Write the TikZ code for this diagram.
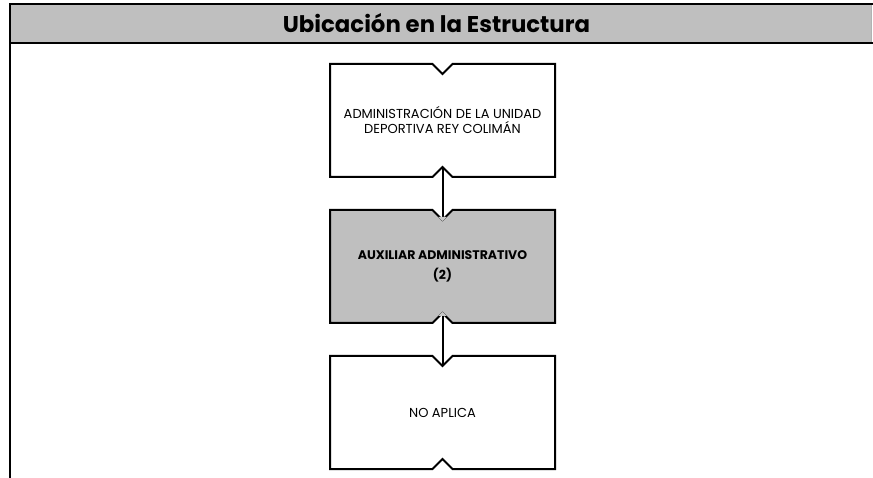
\documentclass[tikz,border=0pt]{standalone}
\usepackage{fontspec}
\setmainfont{Poppins}
\usetikzlibrary{arrows.meta, calc, backgrounds}
\definecolor{headgray}{RGB}{191, 191, 191}
\definecolor{tipgray}{RGB}{200, 200, 200}

\begin{document}
\begin{tikzpicture}[
  x=1pt, y=-1pt,
  unit/.style={draw=none, inner sep=0pt, outer sep=0pt, minimum width=225pt, minimum height=113pt,
               align=center, font=\fontsize{13}{15}\selectfont},
  outline/.style={draw=black, line width=2pt, line join=miter},
  conn/.style={line width=2pt},
  frame/.style={line width=2.6pt}
]
\useasboundingbox (0,0) rectangle (873,478);

% cabecera
\fill[headgray] (10,4) rectangle (871,43);
\draw[gray!60, line width=0.6pt] (871,4) -- (871,43);
\node[font=\fontsize{22.8}{24}\selectfont\bfseries] (title) at (436.5,23.5) {Ubicación en la Estructura};
\draw[frame] (873,4) -- (10,4) -- (10,478);
\draw[frame] (10,43) -- (873,43);

% puestos
\node[unit] (adm) at (442.5,120.5) {ADMINISTRACIÓN DE LA UNIDAD\\DEPORTIVA REY COLIMÁN};
\node[unit, font=\fontsize{12.5}{20}\selectfont\bfseries] (aux) at (442.5,266.5) {AUXILIAR ADMINISTRATIVO\\(2)};
\node[unit] (noap) at (442.5,412.5) {NO APLICA};

\begin{scope}[on background layer]
\foreach \n/\c in {adm/white, aux/headgray, noap/white}
  \draw[outline, fill=\c] (\n.north west) -- ($(\n.north)+(-10pt,0)$) -- ($(\n.north)+(0,-10pt)$)
    -- ($(\n.north)+(10pt,0)$) -- (\n.north east) -- (\n.south east)
    -- ($(\n.south)+(10pt,0)$) -- ($(\n.south)+(0,10pt)$) -- ($(\n.south)+(-10pt,0)$)
    -- (\n.south west) -- cycle;
\end{scope}

\draw[conn, -{Triangle[color=tipgray, length=4pt, width=8pt]}]
  ($(adm.south)+(0,10pt)$) -- ($(aux.north)+(0,-11pt)$);
\draw[conn, {Triangle[color=tipgray, length=4pt, width=8pt]}-]
  ($(aux.south)+(0,11pt)$) -- ($(noap.north)+(0,-10pt)$);
\end{tikzpicture}
\end{document}
